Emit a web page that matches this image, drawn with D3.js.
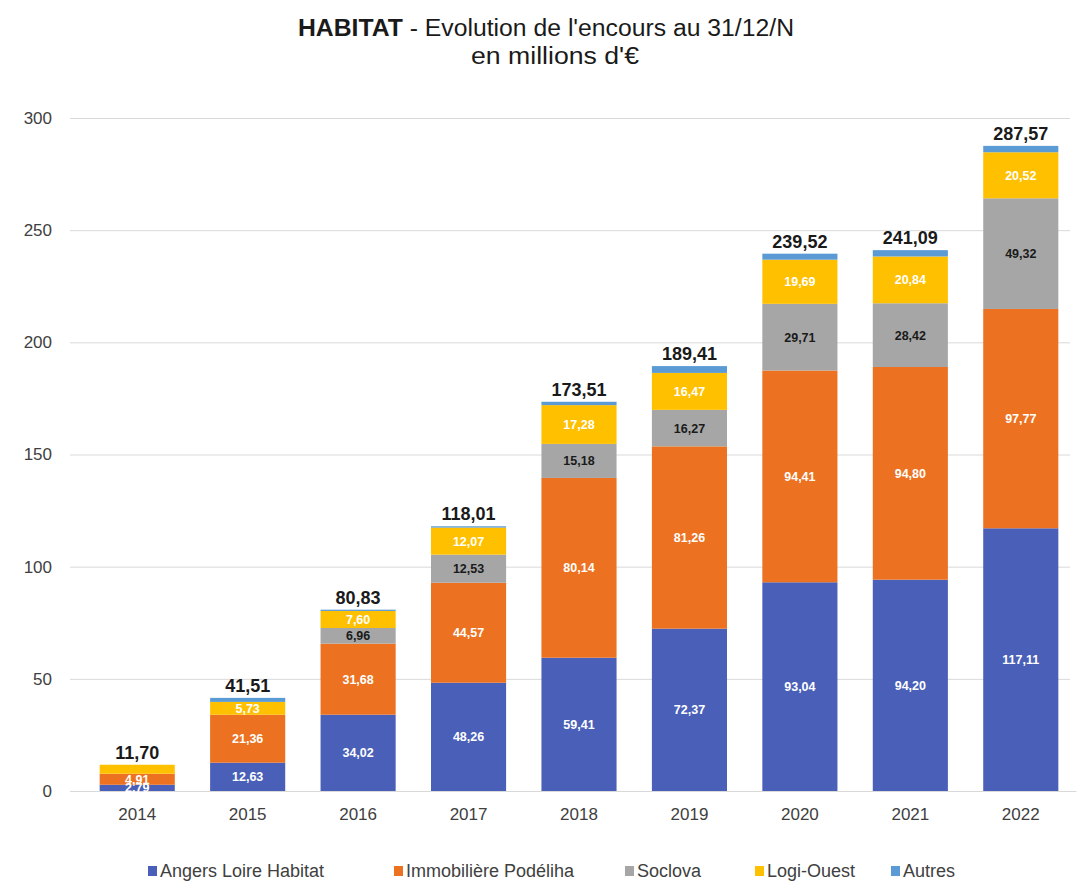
<!DOCTYPE html>
<html>
<head>
<meta charset="utf-8">
<script src="https://cdn.jsdelivr.net/npm/d3@7"></script>
<style>
  html, body { margin: 0; padding: 0; background: #ffffff; }
  svg { display: block; font-family: "Liberation Sans", Arial, sans-serif; }
</style>
</head>
<body>
<svg id="chart" width="1077" height="886"></svg>
<script>
// Outstanding housing debt at 31/12 of each year, millions of euros
const years = ["2014", "2015", "2016", "2017", "2018", "2019", "2020", "2021", "2022"];
const angersLoireHabitat = [2.79, 12.63, 34.02, 48.26, 59.41, 72.37, 93.04, 94.20, 117.11];
const immobilierePodeliha = [4.91, 21.36, 31.68, 44.57, 80.14, 81.26, 94.41, 94.80, 97.77];
const soclova = [0, 0, 6.96, 12.53, 15.18, 16.27, 29.71, 28.42, 49.32];
const logiOuest = [4.00, 5.73, 7.60, 12.07, 17.28, 16.47, 19.69, 20.84, 20.52];
const autres = [0, 1.79, 0.57, 0.58, 1.50, 3.04, 2.67, 2.83, 2.85];
const totals = [11.70, 41.51, 80.83, 118.01, 173.51, 189.41, 239.52, 241.09, 287.57];
const yTicks = [0, 50, 100, 150, 200, 250, 300];

const seriesDefs = [
  { key: "alh", name: "Angers Loire Habitat", values: angersLoireHabitat, color: "#4a5fb8", text: "#ffffff" },
  { key: "ip", name: "Immobilière Podéliha", values: immobilierePodeliha, color: "#ec7120", text: "#ffffff" },
  { key: "so", name: "Soclova", values: soclova, color: "#a6a6a6", text: "#1a1a1a" },
  { key: "lo", name: "Logi-Ouest", values: logiOuest, color: "#ffc000", text: "#ffffff" },
  { key: "au", name: "Autres", values: autres, color: "#5b9bd5", text: "#ffffff" }
];

const rows = years.map((y, i) => {
  const r = { year: y };
  seriesDefs.forEach(s => { r[s.key] = s.values[i]; });
  return r;
});

const stack = d3.stack().keys(seriesDefs.map(s => s.key));
const layers = stack(rows);

const svg = d3.select("#chart");
const fmt = v => v.toFixed(2).replace(".", ",");

const x = d3.scaleBand().domain(years).range([82, 1076]).paddingInner(0.32).paddingOuter(0.16);
const y = d3.scaleLinear().domain([0, 300]).range([791, 118]);

// Title
const title = svg.append("text")
  .attr("x", 546).attr("y", 36)
  .attr("text-anchor", "middle")
  .attr("font-size", 23)
  .attr("textLength", 496)
  .attr("lengthAdjust", "spacingAndGlyphs")
  .attr("fill", "#1a1a1a");
title.append("tspan").attr("font-weight", "bold").text("HABITAT");
title.append("tspan").text(" - Evolution de l'encours au 31/12/N");
svg.append("text")
  .attr("x", 555).attr("y", 64)
  .attr("text-anchor", "middle")
  .attr("font-size", 23)
  .attr("textLength", 168)
  .attr("lengthAdjust", "spacingAndGlyphs")
  .attr("fill", "#1a1a1a")
  .text("en millions d'€");

// Gridlines and y axis labels
const yAxis = d3.axisLeft(y).tickValues(yTicks).tickSize(-(1070 - 70)).tickPadding(18);
const gy = svg.append("g").attr("transform", "translate(70,0)").call(yAxis);
gy.select(".domain").remove();
gy.selectAll(".tick line").attr("stroke", "#d9d9d9").attr("stroke-width", 1);
gy.selectAll(".tick text")
  .attr("font-size", 17)
  .attr("fill", "#404040")
  .attr("font-family", "Liberation Sans, Arial, sans-serif");

// x axis labels
const xAxis = d3.axisBottom(x).tickSize(0).tickPadding(17);
const gx = svg.append("g").attr("transform", "translate(0,791)").call(xAxis);
gx.select(".domain").attr("stroke", "#d9d9d9");
gx.selectAll(".tick text")
  .attr("font-size", 17)
  .attr("fill", "#404040")
  .attr("font-family", "Liberation Sans, Arial, sans-serif");

// Stacked bars
const layerG = svg.append("g").selectAll("g").data(layers).join("g")
  .attr("fill", (d, i) => seriesDefs[i].color);
layerG.selectAll("rect").data(d => d).join("rect")
  .attr("x", d => x(d.data.year))
  .attr("width", x.bandwidth())
  .attr("y", d => y(d[1]))
  .attr("height", d => Math.max(0, y(d[0]) - y(d[1])));

// Segment labels (the 2014 yellow slice is too thin to carry one)
layers.forEach((layer, li) => {
  const def = seriesDefs[li];
  if (def.key === "au") return;
  const shown = layer.filter(d => d[1] - d[0] > 0 && !(def.key === "lo" && d.data.year === "2014"));
  svg.append("g").selectAll("text").data(shown).join("text")
    .attr("x", d => x(d.data.year) + x.bandwidth() / 2)
    .attr("y", d => (y(d[0]) + y(d[1])) / 2 + 4.5)
    .attr("text-anchor", "middle")
    .attr("font-size", 12.5)
    .attr("font-weight", "bold")
    .attr("fill", def.text)
    .text(d => fmt(d[1] - d[0]));
});

// Totals above bars
svg.append("g").selectAll("text").data(years).join("text")
  .attr("x", d => x(d) + x.bandwidth() / 2)
  .attr("y", (d, i) => y(totals[i]) - 6)
  .attr("text-anchor", "middle")
  .attr("font-size", 18)
  .attr("font-weight", "bold")
  .attr("fill", "#1a1a1a")
  .text((d, i) => fmt(totals[i]));

// Legend
const legendX = [148, 394, 625, 755, 891];
const lg = svg.append("g").selectAll("g").data(seriesDefs).join("g")
  .attr("transform", (d, i) => `translate(${legendX[i]},877)`);
lg.append("rect").attr("x", 0).attr("y", -11).attr("width", 9).attr("height", 10).attr("fill", d => d.color);
lg.append("text").attr("x", 12).attr("y", 0)
  .attr("font-size", 18)
  .attr("fill", "#404040")
  .text(d => d.name);
</script>
</body>
</html>
